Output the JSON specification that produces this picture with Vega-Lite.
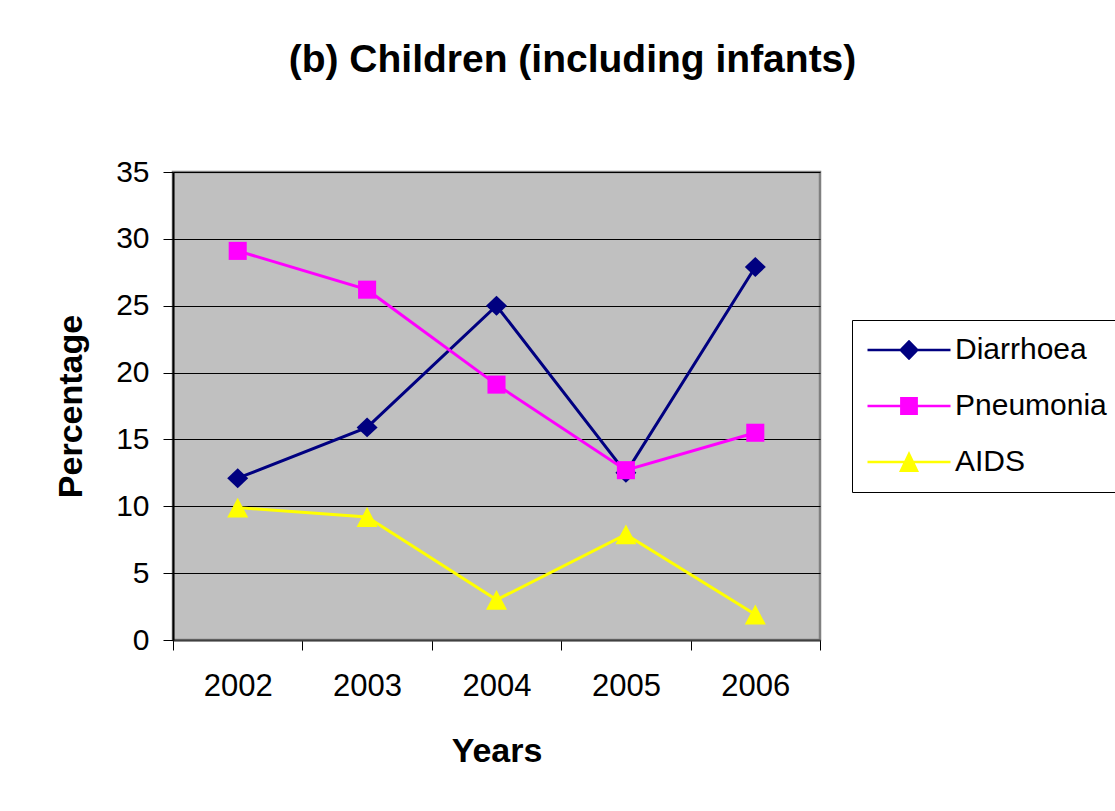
{
  "$schema": "https://vega.github.io/schema/vega-lite/v6.json",
  "width": 647,
  "height": 468,
  "autosize": {"type": "none"},
  "padding": {"left": 173, "top": 172, "right": 295, "bottom": 171},
  "background": "white",
  "config": {"view": {"stroke": "#808080", "strokeWidth": 2.5, "fill": "#C0C0C0"}, "font": "Liberation Sans"},
  "title": {"text": "(b) Children (including infants)", "fontSize": 39, "font": "Liberation Sans", "fontWeight": "bold", "anchor": "middle", "dx": 76, "offset": 77, "color": "black"},
  "data": {"values": [
    {"Year": "2002", "Disease": "Diarrhoea", "Percentage": 12.1},
    {"Year": "2003", "Disease": "Diarrhoea", "Percentage": 15.9},
    {"Year": "2004", "Disease": "Diarrhoea", "Percentage": 25.0},
    {"Year": "2005", "Disease": "Diarrhoea", "Percentage": 12.5},
    {"Year": "2006", "Disease": "Diarrhoea", "Percentage": 27.9},
    {"Year": "2002", "Disease": "Pneumonia", "Percentage": 29.1},
    {"Year": "2003", "Disease": "Pneumonia", "Percentage": 26.2},
    {"Year": "2004", "Disease": "Pneumonia", "Percentage": 19.1},
    {"Year": "2005", "Disease": "Pneumonia", "Percentage": 12.7},
    {"Year": "2006", "Disease": "Pneumonia", "Percentage": 15.5},
    {"Year": "2002", "Disease": "AIDS", "Percentage": 9.9},
    {"Year": "2003", "Disease": "AIDS", "Percentage": 9.2},
    {"Year": "2004", "Disease": "AIDS", "Percentage": 3.0},
    {"Year": "2005", "Disease": "AIDS", "Percentage": 7.9},
    {"Year": "2006", "Disease": "AIDS", "Percentage": 1.9}
  ]},
  "encoding": {
    "x": {"field": "Year", "type": "ordinal", "scale": {"paddingInner": 0, "paddingOuter": 0},
      "axis": {"title": "Years", "titleFont": "Liberation Sans", "titleFontSize": 34, "titleFontWeight": "bold", "titleColor": "black", "titlePadding": 33,
        "labelFont": "Liberation Sans", "labelFontSize": 31, "labelColor": "black", "labelAngle": 0, "labelPadding": 21,
        "tickSize": 10, "tickColor": "black", "tickBand": "extent", "domainColor": "#404040", "domainWidth": 2, "grid": false}},
    "y": {"field": "Percentage", "type": "quantitative", "scale": {"domain": [0, 35], "nice": false},
      "axis": {"values": [0, 5, 10, 15, 20, 25, 30, 35], "title": "Percentage", "titleFont": "Liberation Sans", "titleFontSize": 34, "titleFontWeight": "bold", "titleColor": "black", "titlePadding": 27,
        "labelFont": "Liberation Sans", "labelFontSize": 30, "labelColor": "black", "labelPadding": 14, "labelFlush": false, "labelOverlap": false,
        "tickSize": 10, "tickColor": "black", "domainColor": "black", "domainWidth": 2, "grid": true, "gridColor": "black", "gridWidth": 1}},
    "color": {"field": "Disease", "type": "nominal",
      "scale": {"domain": ["Diarrhoea", "Pneumonia", "AIDS"], "range": ["#000080", "#FF00FF", "#FFFF00"]},
      "legend": {"orient": "none", "legendX": 679, "legendY": 148, "title": null, "padding": 15,
        "strokeColor": "black", "fillColor": "white", "labelFont": "Liberation Sans", "labelFontSize": 30, "labelColor": "black",
        "symbolSize": 400, "symbolOffset": 27, "labelOffset": 31, "rowPadding": 26, "labelLimit": 400,
        "encode": {"symbols": {"update": {
          "shape": {"signal": "datum.value === 'Diarrhoea' ? 'M-4.15,-0.13L4.15,-0.13L4.15,0.13L-4.15,0.13Z M0,-1.03L1,0L0,1.03L-1,0Z' : datum.value === 'Pneumonia' ? 'M-4.15,-0.13L4.15,-0.13L4.15,0.13L-4.15,0.13Z M-0.89,-0.89L0.89,-0.89L0.89,0.89L-0.89,0.89Z' : 'M-4.15,-0.13L4.15,-0.13L4.15,0.13L-4.15,0.13Z M0,-1.1L1,1L-1,1Z'"},
          "fill": {"signal": "datum.value === 'Diarrhoea' ? '#000080' : datum.value === 'Pneumonia' ? '#FF00FF' : '#FFFF00'"},
          "stroke": {"value": "transparent"},
          "strokeWidth": {"value": 0},
          "opacity": {"value": 1},
          "size": {"value": 400}
        }}}}}
  },
  "layer": [
    {"mark": {"type": "line", "strokeWidth": 3}},
    {"transform": [{"filter": "datum.Disease === 'Diarrhoea'"}],
      "mark": {"type": "point", "filled": true, "opacity": 1, "size": 441, "shape": "M0,-0.95L1,0L0,0.95L-1,0Z"}},
    {"transform": [{"filter": "datum.Disease === 'Pneumonia'"}],
      "mark": {"type": "point", "filled": true, "opacity": 1, "size": 441, "shape": "M-0.86,-0.86L0.86,-0.86L0.86,0.86L-0.86,0.86Z"}},
    {"transform": [{"filter": "datum.Disease === 'AIDS'"}],
      "mark": {"type": "point", "filled": true, "opacity": 1, "size": 441, "shape": "M0,-0.95L1,0.95L-1,0.95Z"}}
  ]
}
